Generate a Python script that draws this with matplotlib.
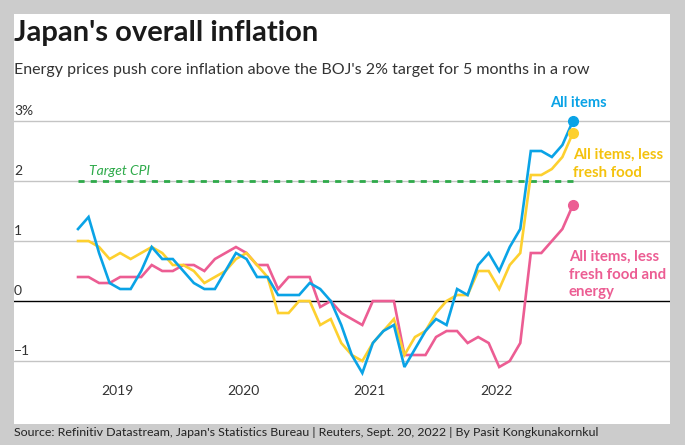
import numpy as np
import matplotlib
matplotlib.use('Agg')
import matplotlib.pyplot as plt
from matplotlib.patches import Rectangle
from matplotlib.transforms import blended_transform_factory

# ── Data: monthly y/y CPI change, Sep 2018 .. Aug 2022 ──────────────────────
start_year, start_month = 2018, 9

all_items = [
    1.2, 1.4, 0.8, 0.3,
    0.2, 0.2, 0.5, 0.9, 0.7, 0.7, 0.5, 0.3, 0.2, 0.2, 0.5, 0.8,
    0.7, 0.4, 0.4, 0.1, 0.1, 0.1, 0.3, 0.2, 0.0, -0.4, -0.9, -1.2,
    -0.7, -0.5, -0.4, -1.1, -0.8, -0.5, -0.3, -0.4, 0.2, 0.1, 0.6, 0.8,
    0.5, 0.9, 1.2, 2.5, 2.5, 2.4, 2.6, 3.0,
]
less_fresh_food = [
    1.0, 1.0, 0.9, 0.7,
    0.8, 0.7, 0.8, 0.9, 0.8, 0.6, 0.6, 0.5, 0.3, 0.4, 0.5, 0.7,
    0.8, 0.6, 0.4, -0.2, -0.2, 0.0, 0.0, -0.4, -0.3, -0.7, -0.9, -1.0,
    -0.7, -0.5, -0.3, -0.9, -0.6, -0.5, -0.2, 0.0, 0.1, 0.1, 0.5, 0.5,
    0.2, 0.6, 0.8, 2.1, 2.1, 2.2, 2.4, 2.8,
]
less_food_energy = [
    0.4, 0.4, 0.3, 0.3,
    0.4, 0.4, 0.4, 0.6, 0.5, 0.5, 0.6, 0.6, 0.5, 0.7, 0.8, 0.9,
    0.8, 0.6, 0.6, 0.2, 0.4, 0.4, 0.4, -0.1, 0.0, -0.2, -0.3, -0.4,
    0.0, 0.0, 0.0, -0.9, -0.9, -0.9, -0.6, -0.5, -0.5, -0.7, -0.6, -0.7,
    -1.1, -1.0, -0.7, 0.8, 0.8, 1.0, 1.2, 1.6,
]
boj_target = 2.0

year_labels = ['2019', '2020', '2021', '2022']
y_ticks = [3, 2, 1, 0, -1]
y_tick_labels = ['3%', '2', '1', '0', '\u22121']

# ── Style ────────────────────────────────────────────────────────────────────
BLUE   = '#0aa3e6'
YELLOW = '#fdd02f'
GOLD   = '#f4c20d'
PINK   = '#ec5d93'
GREEN  = '#2eaa4a'
GRID   = '#c4c4c4'
TEXT   = '#333333'
BG     = '#cccccc'

plt.rcParams['font.family'] = ['Lato', 'DejaVu Sans']

W, H = 685, 445
fig = plt.figure(figsize=(W / 100, H / 100), dpi=100)
fig.patch.set_facecolor(BG)

def fx(px):
    return px / W

def fy(py):
    return 1 - py / H

# white card behind everything
fig.add_artist(Rectangle((fx(14), fy(424)), fx(670) - fx(14), fy(14) - fy(424),
                         transform=fig.transFigure, facecolor='white',
                         edgecolor='none', zorder=0))

# axes spans full card width; data placed by limits
ax = fig.add_axes([fx(14), fy(378), fx(670) - fx(14), fy(100) - fy(378)])
ax.patch.set_alpha(0)

months = np.arange(len(all_items))
ax.set_xlim(-6.08, 56.22)
ax.set_ylim(-1.283, 3.35)

for v in y_ticks:
    if v == 0:
        ax.axhline(v, color='black', lw=1.0, zorder=1)
    else:
        ax.axhline(v, color=GRID, lw=1.0, zorder=1)

trans = blended_transform_factory(ax.transAxes, ax.transData)
for v, lab in zip(y_ticks, y_tick_labels):
    ax.annotate(lab, xy=(0, v), xycoords=trans, xytext=(0, 3),
                textcoords='offset points', ha='left', va='bottom',
                fontsize=10, color=TEXT)

# year labels sit just before January of each year
jan_idx = [(int(y) - start_year) * 12 + 1 - start_month - 0.3
           for y in year_labels]
ax.set_xticks(jan_idx)
ax.set_xticklabels(year_labels, fontsize=10, color=TEXT)
ax.tick_params(axis='x', length=0, pad=5)
ax.set_yticks([])
for s in ax.spines.values():
    s.set_visible(False)

# target line
ax.plot([months[0], months[-1]], [boj_target, boj_target], color=GREEN,
        lw=2, dashes=(2.2, 2.2), zorder=2)
ax.text(months[1], boj_target + 0.07, 'Target CPI', color=GREEN,
        fontsize=10, fontstyle='italic', va='bottom')

series = [
    (less_food_energy, PINK),
    (less_fresh_food, YELLOW),
    (all_items, BLUE),
]
for vals, col in series:
    ax.plot(months, vals, color=col, lw=1.9, zorder=3,
            solid_joinstyle='miter')
    ax.plot(months[-1], vals[-1], 'o', color=col, ms=7, zorder=4)

last = months[-1]
ax.text(last + 0.5, 3.18, 'All items', color=BLUE, fontsize=10.5,
        fontweight='bold', ha='center', va='bottom', clip_on=False)
ax.text(last, 2.29, 'All items, less\nfresh food', color=GOLD, fontsize=10.8,
        fontweight='bold', ha='left', va='center', linespacing=1.35)
ax.text(last - 0.4, 0.44, 'All items, less\nfresh food and\nenergy', color=PINK,
        fontsize=10.8, fontweight='bold', ha='left', va='center',
        linespacing=1.35)

# ── Headings and footer ─────────────────────────────────────────────────────
fig.text(fx(14), fy(41), "Japan's overall inflation", fontsize=21,
         fontweight='bold', color='#1a1a1a', ha='left', va='baseline')
fig.text(fx(14), fy(74), "Energy prices push core inflation above the BOJ's "
         "2% target for 5 months in a row", fontsize=11.5,
         color=TEXT, ha='left', va='baseline')
fig.text(fx(14), fy(436), "Source: Refinitiv Datastream, Japan's Statistics "
         "Bureau | Reuters, Sept. 20, 2022 | By Pasit Kongkunakornkul",
         fontsize=8.9, color='#222222', ha='left', va='baseline')

fig.savefig('out.png', dpi=100, facecolor=BG)
